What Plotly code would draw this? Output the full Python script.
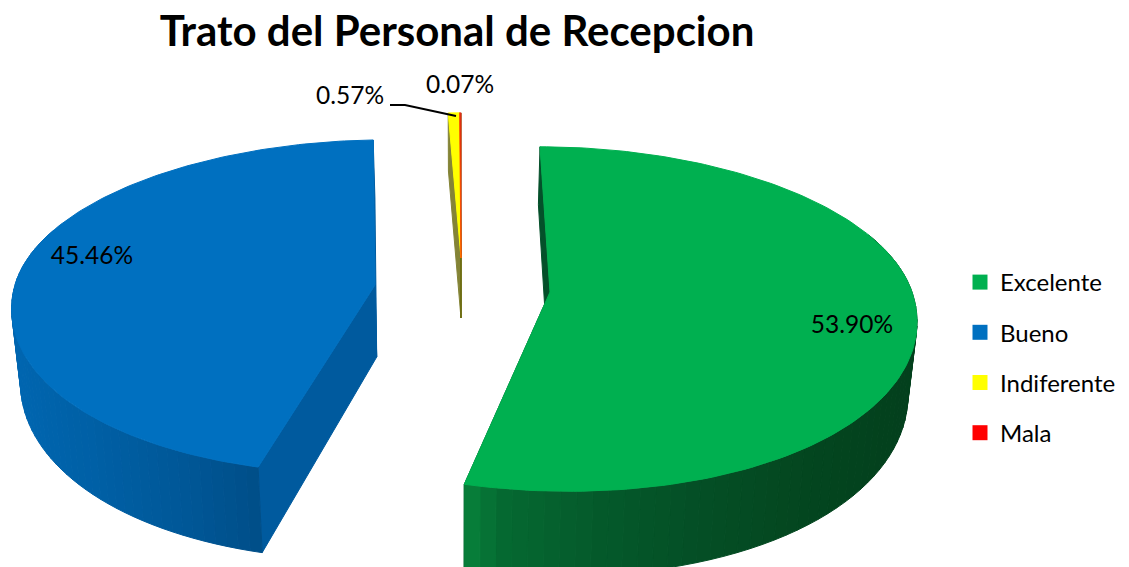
import numpy as np
import plotly.graph_objects as go

categories = ["Excelente", "Bueno", "Indiferente", "Mala"]
values = [53.90, 45.46, 0.57, 0.07]
title_text = "Trato del Personal de Recepcion"

top_colors = ["#00B050", "#0070C0", "#FFFF00", "#FF0000"]
radial_colors = ["#04502a", "#005a9e", "#6f6f14", "#6f6f14"]
# wall shading: (canvas x, colour) stops
wall_stops = {
    0: [(465, (8, 130, 60)), (500, (6, 106, 50)), (600, (5, 90, 43)), (700, (4, 79, 38)), (800, (4, 71, 32)), (915, (3, 64, 29))],
    1: [(15, (0, 102, 176)), (90, (0, 96, 166)), (180, (0, 88, 152)), (262, (0, 78, 136))],
}
geometry = [
    dict(ax=550, ay=292, rx=362, k=168, p=0.157, far=-10, near=19, d0=71, d1=13),
    dict(ax=375, ay=285, rx=360, k=164, p=0.130, far=11, near=-18, d0=72, d1=14),
    dict(ax=461, ay=258, rx=360, k=164, p=0.130, far=0, near=0, d0=60, d1=2),
    dict(ax=461, ay=258, rx=360, k=164, p=0.130, far=0, near=0, d0=60, d1=2),
]
VANISH_X = 460
BOTTOM_SCALE = 0.98


def top_point(theta, g):
    u, v = np.sin(theta), np.cos(theta)
    den = 1 + g["p"] * v
    x = g["ax"] + g["rx"] * u / den + g["far"] * np.clip(v, 0, 1) ** 2 + g["near"] * np.clip(-v, 0, 1) ** 2
    y = g["ay"] - g["k"] * v / den
    return x, y


def to_bottom(x, y, v, g):
    return VANISH_X + (x - VANISH_X) * BOTTOM_SCALE, y + g["d0"] - g["d1"] * v


def poly(xs, ys, color, opacity=1.0):
    return go.Scatter(x=list(xs), y=list(ys), mode="lines", fill="toself", fillcolor=color, opacity=opacity,
                      line=dict(color=color, width=1), hoverinfo="skip", showlegend=False)


shares = np.array(values) / sum(values)
edges = np.concatenate([[0], np.cumsum(shares)]) * 2 * np.pi

fig = go.Figure()
tops = []
for i, g in enumerate(geometry):
    a0, a1 = edges[i], edges[i + 1]
    # radial walls
    for a in (a0, a1):
        ex, ey = top_point(a, g)
        bx, by = to_bottom(ex, ey, np.cos(a), g)
        apx, apy = g["ax"], g["ay"]
        abx, aby = to_bottom(apx, apy, 0, g)
        fig.add_trace(poly([apx, ex, bx, abx, apx], [apy, ey, by, aby, apy], radial_colors[i], 0.85 if i > 1 else 1.0))
    # outer wall strips
    if i in wall_stops:
        stops = wall_stops[i]
        n = 90
        th = np.linspace(a0, a1, n + 1)
        for j in range(n):
            if np.cos((th[j] + th[j + 1]) / 2) > 0.35:
                continue
            t = np.linspace(th[j], th[j + 1], 3)
            x, y = top_point(t, g)
            bx, by = to_bottom(x, y, np.cos(t), g)
            xm = float(x.mean())
            sx = [s[0] for s in stops]
            col = [np.interp(xm, sx, [s[1][c] for s in stops]) for c in range(3)]
            color = "rgb(%d,%d,%d)" % tuple(int(c) for c in col)
            fig.add_trace(poly(list(x) + list(bx[::-1]) + [x[0]], list(y) + list(by[::-1]) + [y[0]], color))
    t = np.linspace(a0, a1, 160)
    x, y = top_point(t, g)
    tops.append(poly([g["ax"]] + list(x) + [g["ax"]], [g["ay"]] + list(y) + [g["ay"]], top_colors[i],
                     0.7 if i == 3 else 1.0))
for tr in tops:
    fig.add_trace(tr)

# leader line of the 0.57% label
fig.add_trace(go.Scatter(x=[390, 405, 456], y=[105, 105, 116], mode="lines",
                         line=dict(color="black", width=2), hoverinfo="skip", showlegend=False))
# data labels
label_x = [852, 92, 350, 460]
label_y = [327, 258, 98, 87]
fig.add_trace(go.Scatter(x=label_x, y=label_y, mode="text", text=["%.2f%%" % v for v in values],
                         textposition="middle center", textfont=dict(family="Lato", size=24.5, color="black"),
                         hoverinfo="skip", showlegend=False))
# legend
for i, c in enumerate(categories):
    fig.add_trace(go.Scatter(x=[None], y=[None], mode="markers", name=c, legendgroup=c,
                             marker=dict(symbol="square", size=15, color=top_colors[i])))

fig.update_layout(
    width=1129, height=567, margin=dict(l=0, r=0, t=0, b=0),
    paper_bgcolor="white", plot_bgcolor="white",
    title=dict(text="<b>%s</b>" % title_text, x=457 / 1129, xanchor="center", y=1 - 31 / 567, yanchor="middle",
               font=dict(family="Lato", size=42, color="black")),
    xaxis=dict(range=[0, 1129], visible=False, fixedrange=True),
    yaxis=dict(range=[567, 0], visible=False, fixedrange=True),
    legend=dict(x=960 / 1129, xanchor="left", y=1 - 260 / 567, yanchor="top", tracegroupgap=16,
                traceorder="grouped", itemwidth=30, bgcolor="rgba(0,0,0,0)",
                font=dict(family="Lato", size=24, color="black")),
)
fig.write_html("out.html", post_script="document.body.style.margin='0';", config={"displayModeBar": False})
